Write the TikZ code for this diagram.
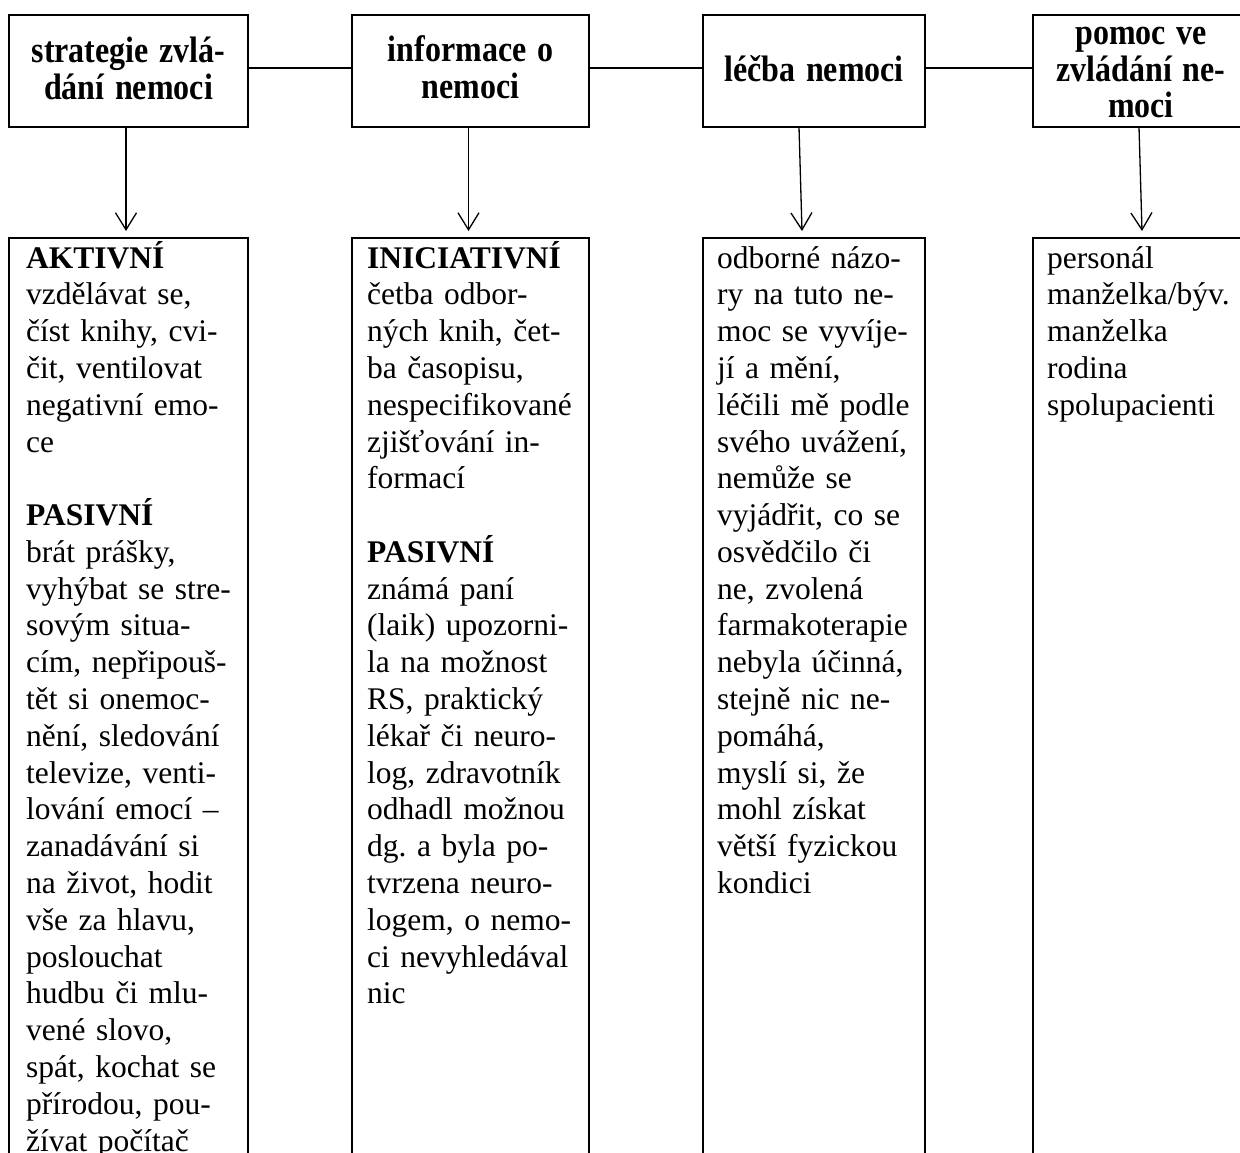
\documentclass[tikz,border=0pt]{standalone}
\usepackage{fontspec}
\setmainfont{Liberation Serif}
\frenchspacing
\usetikzlibrary{arrows.meta}
\begin{document}
\begin{tikzpicture}[x=1pt,y=-1pt,
  box/.style={draw, line width=2pt, inner sep=0pt, outer sep=0pt, rectangle},
  head/.style={font=\fontsize{32}{31.7}\selectfont\bfseries, text width=236pt, align=center, inner sep=0pt, anchor=base, yscale=1.15},
  body/.style={font=\fontsize{31.5}{36.8}\selectfont\frenchspacing, text width=300pt, align=left, inner sep=0pt, anchor=base west},
  link/.style={line width=1.8pt},
  arr/.style={line width=1.3pt, -{Straight Barb[length=17pt,width=21pt,line width=1.3pt]}}
]
\useasboundingbox (0,0) rectangle (1240,1153);
\clip (0,0) rectangle (1240,1153);
\fill[white] (0,0) rectangle (1240,1153);

% top boxes
\node[box, minimum width=239pt, minimum height=112pt] (t1) at (128.5,71) {};
\node[box, minimum width=237pt, minimum height=112pt] (t2) at (470.5,71) {};
\node[box, minimum width=222pt, minimum height=112pt] (t3) at (814,71) {};
\node[box, minimum width=216pt, minimum height=112pt] (t4) at (1141,71) {};

% bottom boxes
\node[box, minimum width=239pt, minimum height=942pt] (b1) at (128.5,709) {};
\node[box, minimum width=237pt, minimum height=942pt] (b2) at (470.5,709) {};
\node[box, minimum width=222pt, minimum height=942pt] (b3) at (814,709) {};
\node[box, minimum width=216pt, minimum height=942pt] (b4) at (1141,709) {};

% headings
\node[head] (h1) at (128.5,63) {strategie zvlá-\\dání nemoci};
\node[head] (h2) at (470.5,62) {informace o\\nemoci};
\node[head] (h3) at (814,82) {léčba nemoci};
\node[head] (h4) at (1141,45) {pomoc ve\\zvládání ne-\\moci};

% connectors
\draw[link] ([yshift=3pt]t1.east) -- ([yshift=3pt]t2.west);
\draw[link] ([yshift=3pt]t2.east) -- ([yshift=3pt]t3.west);
\draw[link] ([yshift=3pt]t3.east) -- ([yshift=3pt]t4.west);

\draw[arr] ([xshift=-2.5pt]t1.south) -- ([xshift=-2.5pt,yshift=7pt]b1.north);
\draw[arr] ([xshift=-2pt]t2.south) -- ([xshift=-2pt,yshift=7pt]b2.north);
\draw[arr] ([xshift=-15pt]t3.south) -- ([xshift=-12pt,yshift=7pt]b3.north);
\draw[arr] ([xshift=-2pt]t4.south) -- ([xshift=1pt,yshift=7pt]b4.north);

% body texts
\node[body] (x1) at (26,268) {\textbf{AKTIVNÍ}\\
vzdělávat se,\\
číst knihy, cvi-\\
čit, ventilovat\\
negativní emo-\\
ce\\[36.8pt]
\textbf{PASIVNÍ}\\
brát prášky,\\
vyhýbat se stre-\\
sovým situa-\\
cím, nepřipouš-\\
tět si onemoc-\\
nění, sledování\\
televize, venti-\\
lování emocí –\\
zanadávání si\\
na život, hodit\\
vše za hlavu,\\
poslouchat\\
hudbu či mlu-\\
vené slovo,\\
spát, kochat se\\
přírodou, pou-\\
žívat počítač};

\node[body] (x2) at (367,268) {\textbf{INICIATIVNÍ}\\
četba odbor-\\
ných knih, čet-\\
ba časopisu,\\
nespecifikované\\
zjišťování in-\\
formací\\[36.8pt]
\textbf{PASIVNÍ}\\
známá paní\\
(laik) upozorni-\\
la na možnost\\
RS, praktický\\
lékař či neuro-\\
log, zdravotník\\
odhadl možnou\\
dg. a byla po-\\
tvrzena neuro-\\
logem, o nemo-\\
ci nevyhledával\\
nic};

\node[body] (x3) at (717,268) {odborné názo-\\
ry na tuto ne-\\
moc se vyvíje-\\
jí a mění,\\
léčili mě podle\\
svého uvážení,\\
nemůže se\\
vyjádřit, co se\\
osvědčilo či\\
ne, zvolená\\
farmakoterapie\\
nebyla účinná,\\
stejně nic ne-\\
pomáhá,\\
myslí si, že\\
mohl získat\\
větší fyzickou\\
kondici};

\node[body] (x4) at (1047,268) {personál\\
manželka/býv.\\
manželka\\
rodina\\
spolupacienti};
\end{tikzpicture}
\end{document}
